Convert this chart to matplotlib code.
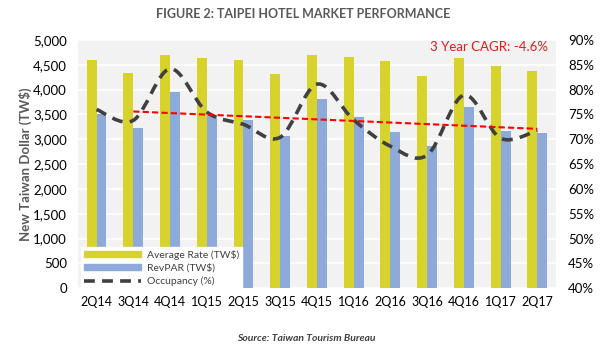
import numpy as np
import matplotlib.pyplot as plt
from matplotlib.path import Path
from matplotlib.patches import PathPatch
from matplotlib.lines import Line2D
from matplotlib.patches import Patch

plt.rcParams['font.family'] = ['Lato', 'DejaVu Sans']

quarters = ["2Q14", "3Q14", "4Q14", "1Q15", "2Q15", "3Q15", "4Q15",
            "1Q16", "2Q16", "3Q16", "4Q16", "1Q17", "2Q17"]
avg_rate = [4600, 4330, 4690, 4630, 4600, 4310, 4690, 4650, 4570, 4270, 4630, 4470, 4370]
revpar = [3500, 3220, 3950, 3480, 3390, 3060, 3810, 3440, 3140, 2860, 3660, 3160, 3120]
occupancy = [76.0, 73.8, 84.2, 75.5, 73.0, 70.4, 81.1, 73.9, 68.6, 66.8, 78.9, 70.2, 71.8]
trend_x = [1, 12]
trend_y = [75.6, 72.1]
cagr_label = "3 Year CAGR: -4.6%"

yellow = "#d8d22c"
blue = "#8eaadb"
grey_txt = "#595959"

fig = plt.figure(figsize=(6.06, 3.48), dpi=100)
ax = fig.add_axes([0.129, 0.172, 0.788, 0.713])
ax.set_facecolor("#f2f2f2")

x = np.arange(len(quarters))
w = 0.27
ax.bar(x - w / 2, avg_rate, width=w, color=yellow, zorder=2)
ax.bar(x + w / 2, revpar, width=w, color=blue, zorder=2)
ax.set_ylim(0, 5000)
ax.set_xlim(-0.5, len(quarters) - 0.5)
ax.set_yticks(np.arange(0, 5001, 500))
ax.set_yticklabels([f"{v:,}" for v in range(0, 5001, 500)])
ax.grid(axis="y", color="white", linewidth=1.2, zorder=1)
ax.set_axisbelow(True)
ax.set_xticks(x)
ax.set_xticklabels(quarters)
ax.tick_params(axis="y", length=0, labelsize=9.5, colors="black", pad=8)
ax.tick_params(axis="x", length=0, labelsize=9, colors="black", pad=6)
for s in ax.spines.values():
    s.set_visible(False)
ax.set_ylabel("New Taiwan Dollar (TW$)", fontsize=9.5, fontweight="bold",
              color=grey_txt, labelpad=1)

ax2 = ax.twinx()
ax2.set_ylim(40, 90)
ax2.set_yticks(np.arange(40, 91, 5))
ax2.set_yticklabels([f"{v}%" for v in range(40, 91, 5)])
ax2.tick_params(length=0, labelsize=9.5, pad=9)
for s in ax2.spines.values():
    s.set_visible(False)

# smooth occupancy curve (Catmull-Rom as cubic bezier)
pts = np.column_stack([x, occupancy]).astype(float)
verts = [tuple(pts[0])]
codes = [Path.MOVETO]
for i in range(len(pts) - 1):
    p0 = pts[i - 1] if i > 0 else pts[i]
    p1, p2 = pts[i], pts[i + 1]
    p3 = pts[i + 2] if i + 2 < len(pts) else pts[i + 1]
    c1 = p1 + (p2 - p0) / 6
    c2 = p2 - (p3 - p1) / 6
    verts += [tuple(c1), tuple(c2), tuple(p2)]
    codes += [Path.CURVE4] * 3
ax2.add_patch(PathPatch(Path(verts, codes), facecolor="none", edgecolor="#404040",
                        linewidth=2.6, linestyle=(0, (3, 2)), zorder=4))

ax2.plot(trend_x, trend_y, color="#ff0000", linestyle=(0, (3, 1.5)), linewidth=1.5, zorder=5)
ax2.text(12.3, 88.6, cagr_label, color="#e31a1c", fontsize=9.5, ha="right", va="center")

handles = [Patch(color=yellow), Patch(color=blue),
           Line2D([], [], color="#404040", linewidth=2.6, linestyle=(0, (3, 2)))]
labels = ["Average Rate (TW$)", "RevPAR (TW$)", "Occupancy (%)"]
leg = ax2.legend(handles, labels, loc="lower left", bbox_to_anchor=(-0.005, -0.025),
                 fontsize=7.5, frameon=True, fancybox=False, edgecolor="white",
                 framealpha=1, handlelength=5.5, handleheight=0.5, labelspacing=0.35,
                 borderpad=0.3, handletextpad=0.5)
for t in leg.get_texts():
    t.set_color("#404040")

fig.text(0.5, 0.96, "FIGURE 2: TAIPEI HOTEL MARKET PERFORMANCE", ha="center", va="center",
         fontsize=9, fontweight="bold", color=grey_txt)
fig.text(0.505, 0.028, "Source: Taiwan Tourism Bureau", ha="center", va="center",
         fontsize=7.5, fontweight="bold", fontstyle="italic", color="#404040")

fig.savefig("out.png", dpi=100)
